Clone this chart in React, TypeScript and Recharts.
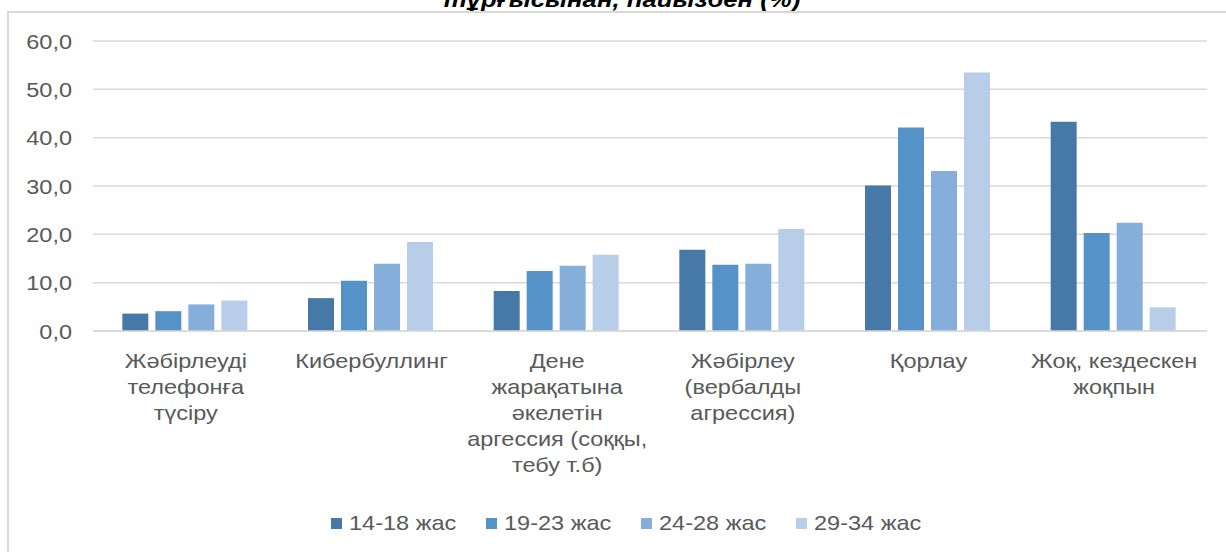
import React from 'react';
import {
  BarChart,
  Bar,
  XAxis,
  YAxis,
  CartesianGrid,
  Legend,
} from 'recharts';

const categories = [
  'Жәбірлеуді\nтелефонға\nтүсіру',
  'Кибербуллинг',
  'Дене\nжарақатына\nәкелетін\nаргессия (соққы,\nтебу т.б)',
  'Жәбірлеу\n(вербалды\nагрессия)',
  'Қорлау',
  'Жоқ, кездескен\nжоқпын',
];

const age14to18 = [3.6, 6.8, 8.3, 16.8, 30.1, 43.3];
const age19to23 = [4.1, 10.4, 12.4, 13.7, 42.1, 20.3];
const age24to28 = [5.5, 13.9, 13.5, 13.9, 33.1, 22.4];
const age29to34 = [6.3, 18.4, 15.8, 21.1, 53.5, 4.9];

const seriesNames = ['14-18 жас', '19-23 жас', '24-28 жас', '29-34 жас'];
const seriesColors = ['#4679A8', '#5592C8', '#86AEDB', '#B8CDE8'];
const yTicks = [0, 10, 20, 30, 40, 50, 60];

const titleTail = 'тұрғысынан, пайызбен (%)';

const FONT = '"Liberation Sans", Arial, sans-serif';
const TEXT = '#595959';
const STRETCH = 1.12;

const data = categories.map((name, i) => ({
  name,
  s1: age14to18[i],
  s2: age19to23[i],
  s3: age24to28[i],
  s4: age29to34[i],
}));

const fmt = (v: number) => v.toFixed(1).replace('.', ',');

function YTick({ x, y, payload }: any) {
  return (
    <g transform={`translate(${x},${y})`}>
      <text
        transform={`scale(${STRETCH},1)`}
        textAnchor="end"
        dy="0.36em"
        fill={TEXT}
        fontSize={21}
        fontFamily={FONT}
      >
        {fmt(payload.value)}
      </text>
    </g>
  );
}

function XTick({ x, y, payload }: any) {
  const lines = String(payload.value).split('\n');
  return (
    <g transform={`translate(${x},${y + 29})`}>
      <text
        transform={`scale(${STRETCH},1)`}
        textAnchor="middle"
        fill={TEXT}
        fontSize={21}
        fontFamily={FONT}
      >
        {lines.map((ln, i) => (
          <tspan key={i} x={0} dy={i === 0 ? 0 : 26}>
            {ln}
          </tspan>
        ))}
      </text>
    </g>
  );
}

function LegendBox({ payload }: any) {
  return (
    <div
      style={{
        display: 'flex',
        height: 30,
        alignItems: 'center',
        paddingLeft: 331,
        boxSizing: 'border-box',
      }}
    >
      {(payload || []).map((p: any) => (
        <div
          key={p.value}
          style={{ display: 'flex', alignItems: 'center', width: 155 }}
        >
          <div
            style={{
              width: 11,
              height: 11,
              background: p.color,
              marginRight: 7,
              flexShrink: 0,
            }}
          />
          <span
            style={{
              display: 'inline-block',
              fontSize: 21,
              fontFamily: FONT,
              color: TEXT,
              whiteSpace: 'nowrap',
              transform: `scaleX(${STRETCH})`,
              transformOrigin: 'left center',
              lineHeight: '30px',
            }}
          >
            {p.value}
          </span>
        </div>
      ))}
    </div>
  );
}

export default function App() {
  return (
    <div
      style={{
        position: 'absolute',
        left: 0,
        top: 0,
        width: 1226,
        height: 552,
        overflow: 'hidden',
        background: '#fff',
      }}
    >
      <svg
        width={1226}
        height={20}
        style={{ position: 'absolute', left: 0, top: 0 }}
      >
        <text
          transform={`translate(622,7) scale(${STRETCH},1)`}
          textAnchor="middle"
          fontSize={23}
          fontWeight="bold"
          fontStyle="italic"
          fontFamily={FONT}
          fill="#000"
        >
          {titleTail}
        </text>
      </svg>
      <div
        style={{
          position: 'absolute',
          left: 7,
          top: 11,
          right: 0,
          height: 2,
          background: '#D9D9D9',
        }}
      />
      <div
        style={{
          position: 'absolute',
          left: 7,
          top: 11,
          bottom: 0,
          width: 2,
          background: '#D9D9D9',
        }}
      />
      <div style={{ position: 'absolute', left: 0, top: 0 }}>
        <BarChart
          width={1226}
          height={552}
          data={data}
          margin={{ top: 41, right: 19, left: 8, bottom: 41 }}
          barCategoryGap="15.8%"
          barGap={7}
        >
          <CartesianGrid
            vertical={false}
            stroke="#D9D9D9"
            strokeWidth={1.5}
          />
          <XAxis
            dataKey="name"
            interval={0}
            height={150}
            tickLine={false}
            axisLine={{ stroke: '#D9D9D9', strokeWidth: 1.5 }}
            tick={<XTick />}
          />
          <YAxis
            width={85}
            domain={[0, 60]}
            ticks={yTicks}
            tickLine={false}
            axisLine={false}
            tickMargin={15}
            tick={<YTick />}
          />
          <Legend
            verticalAlign="bottom"
            content={<LegendBox />}
            wrapperStyle={{ top: 508, bottom: 'auto', left: 0, width: 1226 }}
          />
          <Bar dataKey="s1" name={seriesNames[0]} fill={seriesColors[0]} isAnimationActive={false} />
          <Bar dataKey="s2" name={seriesNames[1]} fill={seriesColors[1]} isAnimationActive={false} />
          <Bar dataKey="s3" name={seriesNames[2]} fill={seriesColors[2]} isAnimationActive={false} />
          <Bar dataKey="s4" name={seriesNames[3]} fill={seriesColors[3]} isAnimationActive={false} />
        </BarChart>
      </div>
    </div>
  );
}
